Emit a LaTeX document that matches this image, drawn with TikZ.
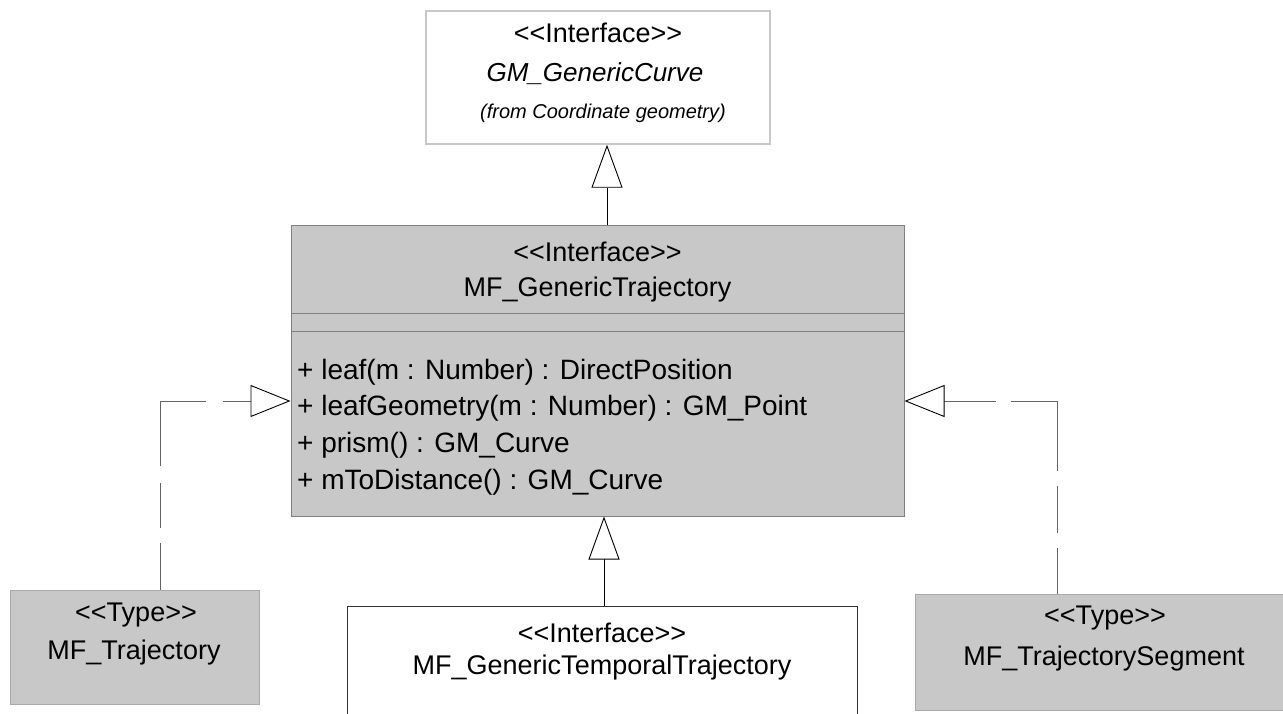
\documentclass[tikz,border=0pt]{standalone}
\usepackage{fontspec}
\setmainfont{Liberation Sans}
\usetikzlibrary{arrows.meta}
\definecolor{boxgray}{RGB}{200,200,200}
\definecolor{edgemid}{RGB}{128,128,128}
\definecolor{edgelight}{RGB}{170,170,170}
\definecolor{edgepale}{RGB}{200,200,200}
\definecolor{dashgray}{RGB}{100,100,100}
% stereotype guillemets written as two separate angle brackets
\newcommand{\stereo}[1]{<\kern0pt<#1>\kern0pt>}
\begin{document}
\begin{tikzpicture}[x=1pt,y=-1pt,
  umlbox/.style={draw, rectangle, inner sep=0pt, line width=1pt},
  grayclass/.style={umlbox, fill=boxgray, draw=edgelight},
  txt/.style={inner sep=0pt, font=\fontsize{27}{32}\selectfont},
  optxt/.style={inner sep=0pt, anchor=west, font=\fontsize{28}{33}\selectfont},
  gen/.style={draw=black, line width=0.9pt,
    -{Triangle[length=43pt,width=31pt,fill=white]}},
  realize/.style={draw=dashgray, line width=1pt,
    -{Triangle[length=40pt,width=32pt,fill=white,color=black,line width=0.9pt]}}
]
\useasboundingbox (0,0) rectangle (1283,714);
\clip (0,0) rectangle (1283,714);

% class boxes
\node[umlbox, draw=edgepale, line width=1.5pt, fill=white, minimum width=344pt, minimum height=133pt] (curve) at (598,77.5) {};
\node[umlbox, fill=boxgray, draw=edgemid, minimum width=613pt, minimum height=290pt] (main) at (597.5,371) {};
\node[grayclass, minimum width=248.6pt, minimum height=114pt] (traj) at (135,647) {};
\node[grayclass, minimum width=380pt, minimum height=116pt] (seg) at (1105,652) {};
\node[umlbox, draw=black!80, fill=white, minimum width=510pt, minimum height=140pt] (temp) at (602,676) {};

% compartment separators of the main class
\draw[edgemid, line width=1pt] ([yshift=-87.5pt]main.north west) -- ([yshift=-87.5pt]main.north east);
\draw[edgemid, line width=1pt] ([yshift=-106pt]main.north west) -- ([yshift=-106pt]main.north east);

% texts
\node[txt] (curveSt) at (598,33) {\stereo{Interface}};
\node[txt, font=\fontsize{26}{31}\selectfont\itshape] (curveName) at (595,74) {GM\_GenericCurve};
\node[txt, font=\fontsize{20}{24}\selectfont\itshape] (curveFrom) at (603,113) {(from Coordinate geometry)};

\node[txt] (mainSt) at (597.5,252) {\stereo{Interface}};
\node[txt] (mainName) at (597.5,290) {MF\_GenericTrajectory};
\node[optxt] (op1) at (297,372) {+ leaf(m : Number) : DirectPosition};
\node[optxt] (op2) at (297,408.5) {+ leafGeometry(m : Number) : GM\_Point};
\node[optxt] (op3) at (297,445) {+ prism() : GM\_Curve};
\node[optxt] (op4) at (297,482) {+ mToDistance() : GM\_Curve};

\node[txt] (trajSt) at (136,615) {\stereo{Type}};
\node[txt] (trajName) at (134,653) {MF\_Trajectory};

\node[txt] (segSt) at (1105,618) {\stereo{Type}};
\node[txt] (segName) at (1104,659) {MF\_TrajectorySegment};

\node[txt] (tempSt) at (602,633) {\stereo{Interface}};
\node[txt] (tempName) at (602,668) {MF\_GenericTemporalTrajectory};

% connector guide coordinates
\coordinate (upX) at (607,0);
\coordinate (downX) at (604,0);
\coordinate (bendL) at (160,401);
\coordinate (bendR) at (1057,401);

% generalizations
\draw[gen] (main.north -| upX) -- (curve.south -| upX);
\draw[gen] (temp.north -| downX) -- (main.south -| downX);

% realizations (dashes laid out from the realizing class upwards)
\draw[realize, dash pattern=on 46.7pt off 15pt on 45pt off 16.7pt on 111pt off 16.7pt on 300pt off 1pt]
  (traj.north -| bendL) |- (main.west |- bendL);
\draw[realize, dash pattern=on 46pt off 15pt on 46.6pt off 15pt on 116.3pt off 15pt on 300pt off 1pt]
  (seg.north -| bendR) |- (main.east |- bendR);
\end{tikzpicture}
\end{document}
